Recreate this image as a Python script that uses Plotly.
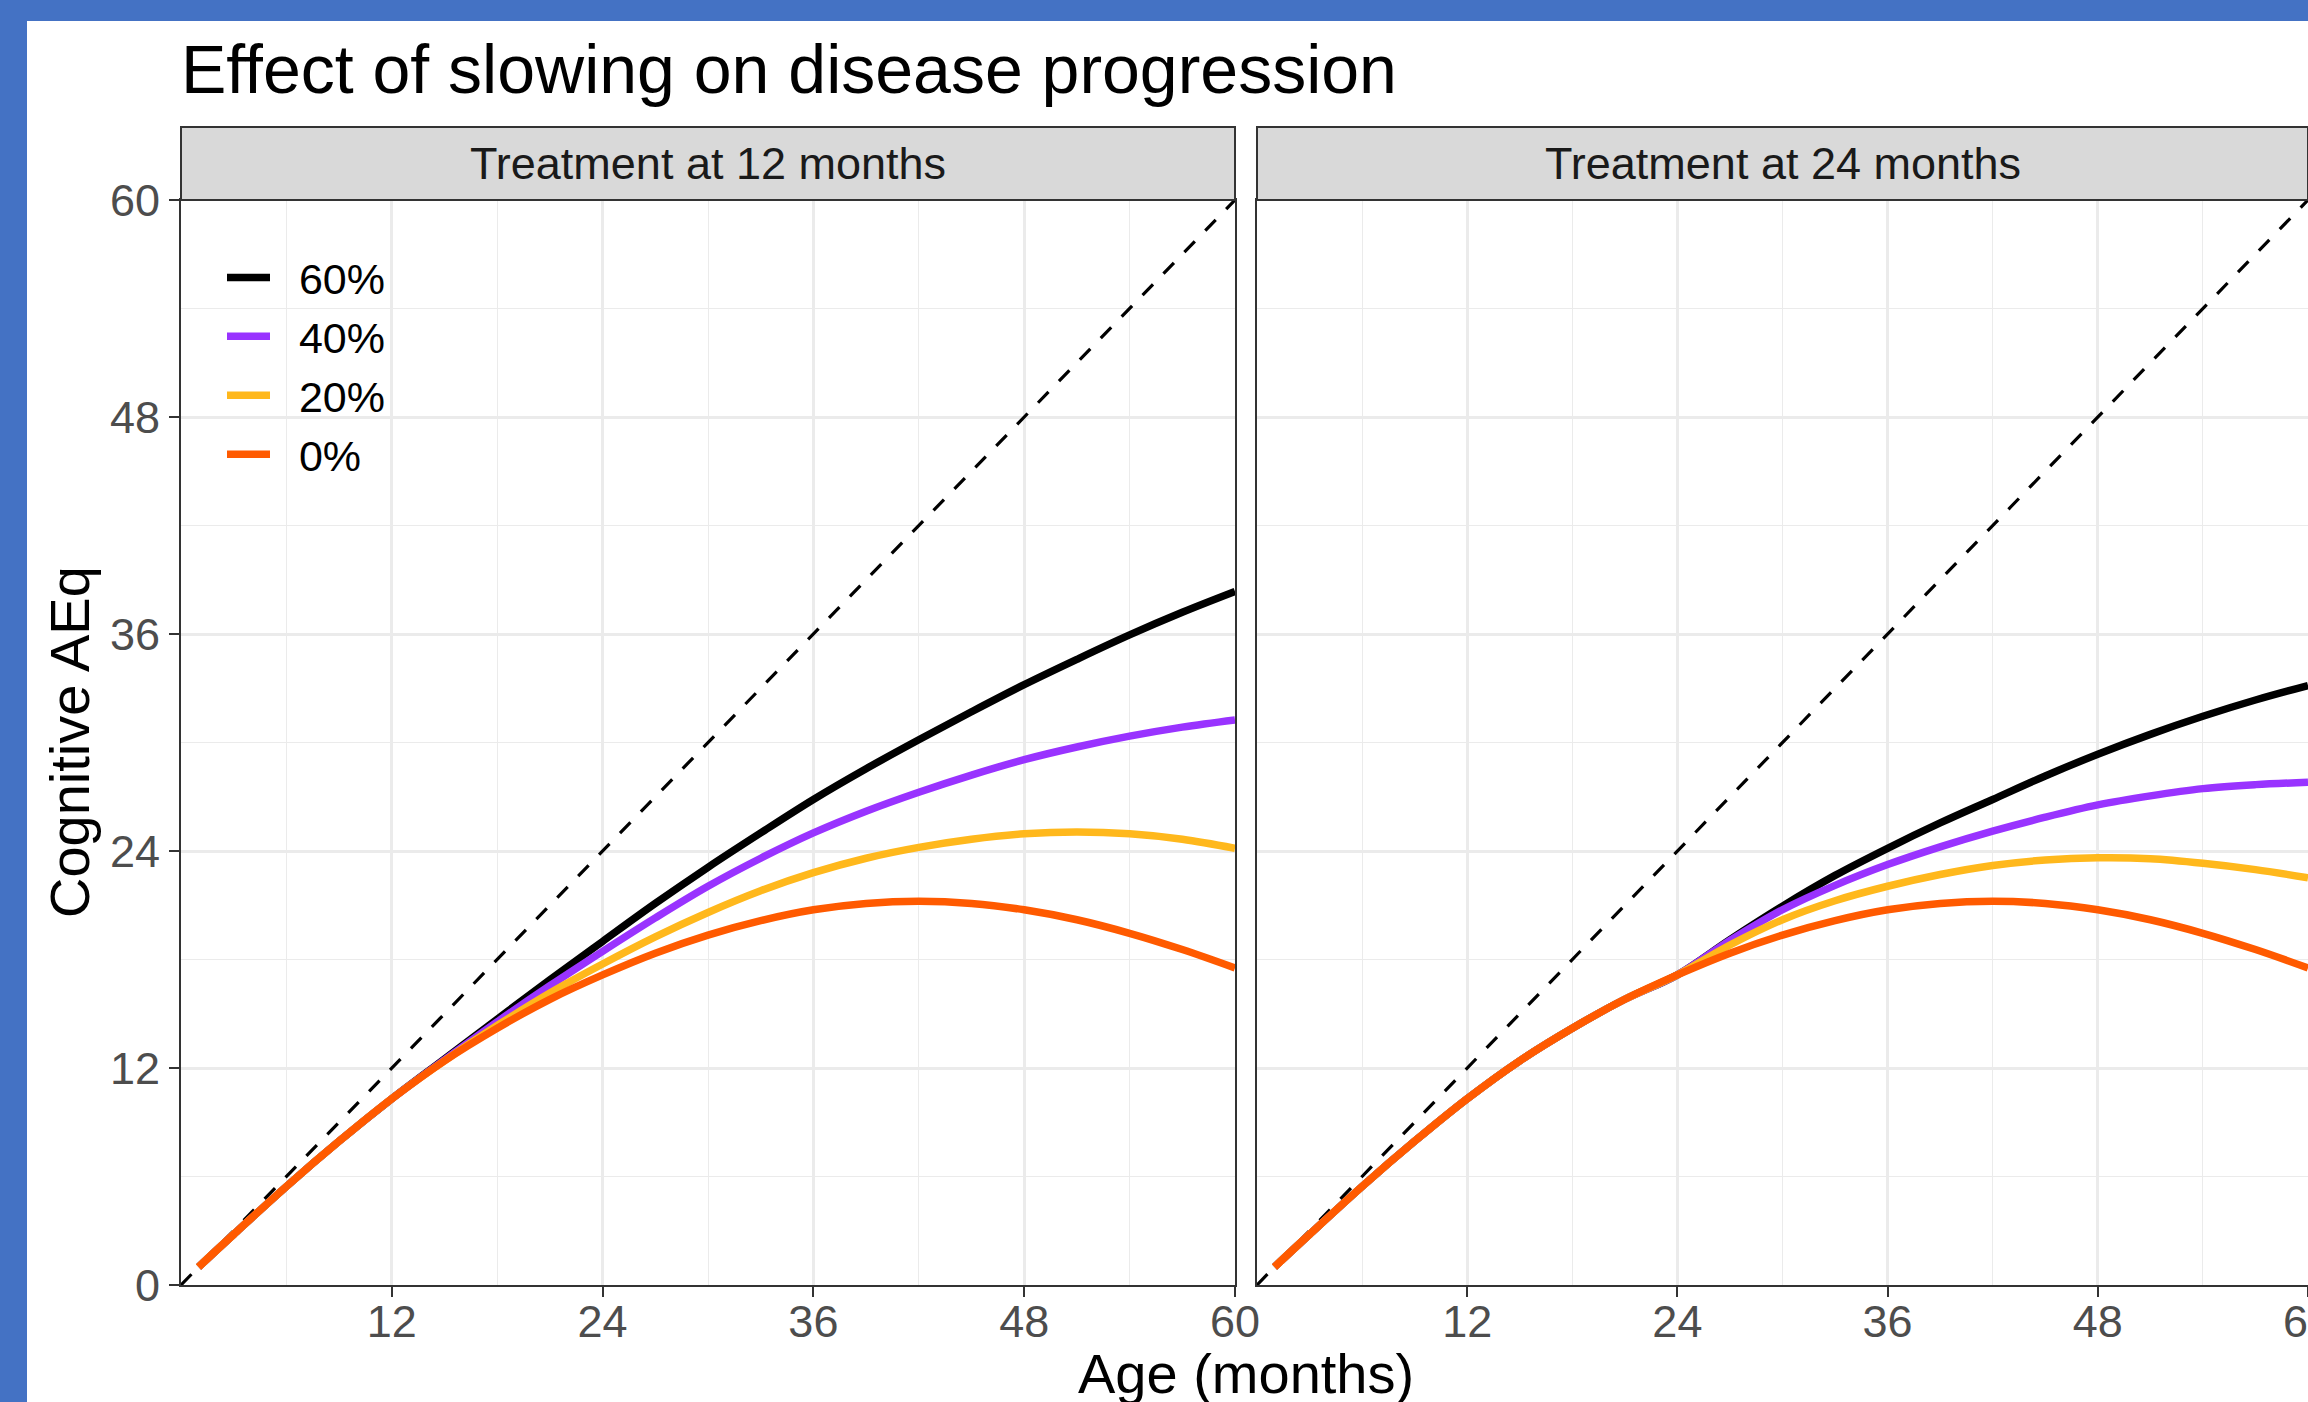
import plotly.graph_objects as go

# ---------------- data ----------------
ages = [1, 3, 6, 9, 12, 15, 18, 21, 24, 27, 30, 33, 36, 39, 42, 45, 48, 51, 54, 57, 60]
identity_x = [0, 60]
identity_y = [0, 60]

# natural course (0% slowing) - same in both panels
natural = [1.0, 2.8, 5.45, 7.95, 10.3, 12.4, 14.2, 15.8, 17.15, 18.35, 19.35, 20.15,
           20.75, 21.1, 21.22, 21.1, 20.75, 20.2, 19.45, 18.55, 17.53]

# Treatment at 12 months
t12_60 = [1.0, 2.8, 5.45, 7.95, 10.3, 12.5, 14.7, 16.88, 19.0, 21.1, 23.1, 25.0,
          26.85, 28.55, 30.15, 31.7, 33.2, 34.6, 35.95, 37.2, 38.35]
t12_40 = [1.0, 2.8, 5.45, 7.95, 10.3, 12.45, 14.55, 16.55, 18.45, 20.3, 22.05, 23.6,
          25.0, 26.2, 27.25, 28.2, 29.05, 29.75, 30.35, 30.85, 31.25]
t12_20 = [1.0, 2.8, 5.45, 7.95, 10.3, 12.4, 14.35, 16.15, 17.75, 19.25, 20.6, 21.8,
          22.8, 23.6, 24.2, 24.65, 24.95, 25.05, 24.95, 24.65, 24.15]
t12_0 = natural

# Treatment at 24 months
t24_60 = [1.0, 2.8, 5.45, 7.95, 10.3, 12.4, 14.2, 15.8, 17.15, 19.1, 20.95, 22.65,
          24.15, 25.55, 26.85, 28.15, 29.35, 30.45, 31.45, 32.35, 33.15]
t24_40 = [1.0, 2.8, 5.45, 7.95, 10.3, 12.4, 14.2, 15.8, 17.15, 19.05, 20.75, 22.1,
          23.25, 24.23, 25.1, 25.87, 26.55, 27.05, 27.45, 27.67, 27.8]
t24_20 = [1.0, 2.8, 5.45, 7.95, 10.3, 12.4, 14.2, 15.8, 17.15, 18.8, 20.2, 21.25,
          22.05, 22.7, 23.2, 23.5, 23.62, 23.57, 23.32, 22.97, 22.52]
t24_0 = natural

series_names = ["60%", "40%", "20%", "0%"]
series_colors = ["#000000", "#9933FF", "#FFB81C", "#FF5A00"]
panel_titles = ["Treatment at 12 months", "Treatment at 24 months"]
panel_series = [[t12_60, t12_40, t12_20, t12_0], [t24_60, t24_40, t24_20, t24_0]]

x_ticks = [12, 24, 36, 48, 60]
y_ticks = [0, 12, 24, 36, 48, 60]
minor_ticks = [6, 18, 30, 42, 54]

# ---------------- layout geometry (pixels) ----------------
W, H = 2308, 1402
ML, MR, MT, MB = 181, 0, 200, 117
PW, PH = W - ML - MR, H - MT - MB


def px_x(p):
    return (p - ML) / PW


def px_y(p):
    return (H - MB - p) / PH


FONT = "Liberation Sans, Arial, Helvetica, sans-serif"
GRID = "#EBEBEB"
BORDER = "#333333"

fig = go.Figure()

for i, series in enumerate(panel_series):
    xa = "x" if i == 0 else "x2"
    ya = "y" if i == 0 else "y2"
    fig.add_trace(go.Scatter(
        x=identity_x, y=identity_y, mode="lines", xaxis=xa, yaxis=ya,
        line=dict(color="black", width=3.2, dash="15px,15px"),
        showlegend=False, hoverinfo="skip"))
    for name, color, vals in zip(series_names, series_colors, series):
        fig.add_trace(go.Scatter(
            x=ages, y=vals, mode="lines", name="\u00a0\u00a0" + name, xaxis=xa, yaxis=ya,
            line=dict(color=color, width=7.5, shape="spline", smoothing=1),
            legendgroup=name, showlegend=(i == 0)))

axis_common = dict(
    range=[0, 60], automargin=False,
    showline=True, mirror=True, linecolor=BORDER, linewidth=2,
    showgrid=True, gridcolor=GRID, gridwidth=2.5, zeroline=False,
    ticks="outside", ticklen=10, tickwidth=2, tickcolor=BORDER,
    tickfont=dict(family=FONT, size=45, color="#4D4D4D"),
    minor=dict(tickmode="array", tickvals=minor_ticks, showgrid=True,
               gridcolor=GRID, gridwidth=1.4, ticks=""),
)

fig.update_layout(
    width=W, height=H,
    margin=dict(l=ML, r=MR, t=MT, b=MB, pad=0, autoexpand=False),
    paper_bgcolor="white", plot_bgcolor="white",
    font=dict(family=FONT, color="black"),
    title=dict(text="Effect of slowing on disease progression",
               x=0, xref="paper", xanchor="left",
               y=1 - 69 / H, yref="container", yanchor="middle",
               font=dict(family=FONT, size=68, color="black")),
    xaxis=dict(domain=[0, px_x(1235)], anchor="y", tickmode="array", tickvals=x_ticks,
               ticklabeloverflow="allow", ticklabelstandoff=-14, **axis_common),
    xaxis2=dict(domain=[px_x(1257), 1], anchor="y2", tickmode="array", tickvals=x_ticks,
                ticklabeloverflow="allow", ticklabelstandoff=-14, **axis_common),
    yaxis=dict(domain=[0, 1], anchor="x", tickmode="array", tickvals=y_ticks, **axis_common),
    yaxis2=dict(domain=[0, 1], anchor="x2", matches="y", tickmode="array", tickvals=y_ticks,
                **{**axis_common, "ticks": "", "showticklabels": False}),
    legend=dict(x=px_x(222), y=px_y(243), xanchor="left", yanchor="top",
                bgcolor="rgba(0,0,0,0)", borderwidth=0, tracegroupgap=0,
                itemwidth=43,
                font=dict(family=FONT, size=43, color="black")),
    showlegend=True,
)

# strips
strip_top = (H - MB - 127) / PH
for i, title in enumerate(panel_titles):
    xd = "x domain" if i == 0 else "x2 domain"
    yd = "y domain" if i == 0 else "y2 domain"
    fig.add_shape(type="rect", xref=xd, yref=yd, x0=0, x1=1, y0=1, y1=strip_top,
                  fillcolor="#D9D9D9", line=dict(color=BORDER, width=2))
    fig.add_annotation(text=title, xref=xd, yref=yd, x=0.5, y=(1 + strip_top) / 2,
                       showarrow=False, xanchor="center", yanchor="middle",
                       font=dict(family=FONT, size=45, color="#1A1A1A"))

# axis titles
fig.add_annotation(text="Cognitive AEq", xref="paper", yref="paper",
                   x=px_x(69), y=px_y(742), textangle=-90, showarrow=False,
                   xanchor="center", yanchor="middle",
                   font=dict(family=FONT, size=56, color="black"))
fig.add_annotation(text="Age (months)", xref="paper", yref="paper",
                   x=px_x(1246), y=px_y(1340), showarrow=False,
                   xanchor="center", yanchor="top",
                   font=dict(family=FONT, size=56, color="black"))

# blue frame (left and top)
BLUE = "#4472C4"
fig.add_shape(type="rect", xref="paper", yref="paper", x0=px_x(-10), x1=px_x(27),
              y0=px_y(H + 10), y1=px_y(-10), fillcolor=BLUE, line=dict(width=0))
fig.add_shape(type="rect", xref="paper", yref="paper", x0=px_x(-10), x1=px_x(W + 10),
              y0=px_y(21), y1=px_y(-10), fillcolor=BLUE, line=dict(width=0))

fig.write_html("out.html")
